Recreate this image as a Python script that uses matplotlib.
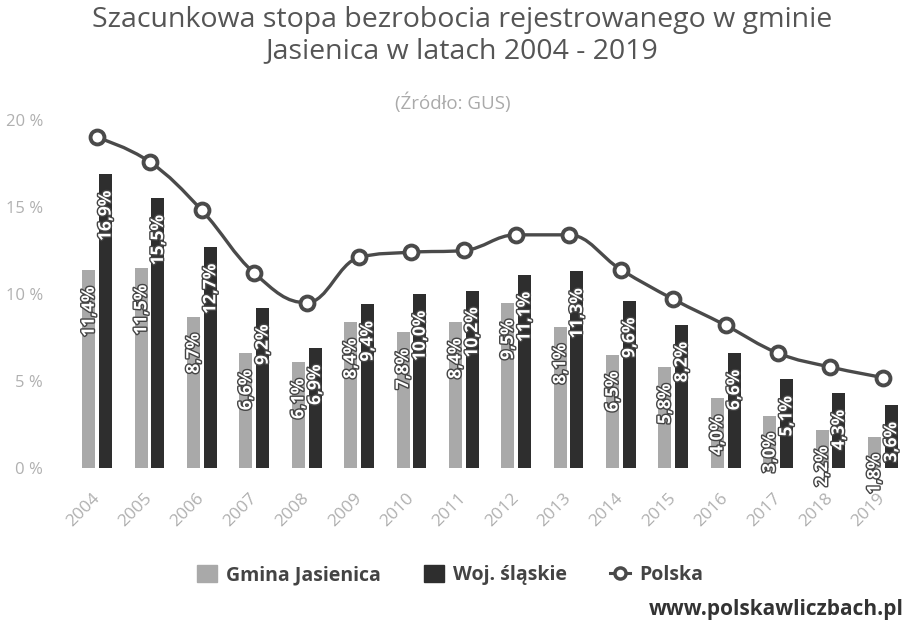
import numpy as np
import matplotlib
matplotlib.use("Agg")
import matplotlib.pyplot as plt
from matplotlib.path import Path
from matplotlib.patches import PathPatch, Patch
from matplotlib.lines import Line2D
import matplotlib.patheffects as pe

plt.rcParams["font.family"] = ["Open Sans", "DejaVu Sans"]

# dane
lata = ["2004", "2005", "2006", "2007", "2008", "2009", "2010", "2011",
        "2012", "2013", "2014", "2015", "2016", "2017", "2018", "2019"]
gmina = [11.4, 11.5, 8.7, 6.6, 6.1, 8.4, 7.8, 8.4, 9.5, 8.1, 6.5, 5.8, 4.0, 3.0, 2.2, 1.8]
woj = [16.9, 15.5, 12.7, 9.2, 6.9, 9.4, 10.0, 10.2, 11.1, 11.3, 9.6, 8.2, 6.6, 5.1, 4.3, 3.6]
polska = [19.0, 17.6, 14.8, 11.2, 9.5, 12.1, 12.4, 12.5, 13.4, 13.4, 11.4, 9.7, 8.2, 6.6, 5.8, 5.2]

c_gmina = "#a9a9a9"
c_woj = "#2e2e2e"
c_line = "#4a4a4a"


def spline_path(xs, ys, smoothing=1.5):
    # krzywa jak w Highcharts (spline)
    denom = smoothing + 1
    n = len(xs)
    left = [None] * n
    right = [None] * n
    for i in range(1, n - 1):
        x, y = xs[i], ys[i]
        lx, ly = xs[i - 1], ys[i - 1]
        nx, ny = xs[i + 1], ys[i + 1]
        lcx = (smoothing * x + lx) / denom
        lcy = (smoothing * y + ly) / denom
        rcx = (smoothing * x + nx) / denom
        rcy = (smoothing * y + ny) / denom
        corr = (rcy - lcy) * (rcx - x) / (rcx - lcx) + y - rcy
        lcy += corr
        rcy += corr
        if lcy > ly and lcy > y:
            lcy = max(ly, y)
            rcy = 2 * y - lcy
        elif lcy < ly and lcy < y:
            lcy = min(ly, y)
            rcy = 2 * y - lcy
        if rcy > ny and rcy > y:
            rcy = max(ny, y)
            lcy = 2 * y - rcy
        elif rcy < ny and rcy < y:
            rcy = min(ny, y)
            lcy = 2 * y - rcy
        left[i] = (lcx, lcy)
        right[i] = (rcx, rcy)
    verts = [(xs[0], ys[0])]
    codes = [Path.MOVETO]
    for i in range(1, n):
        c1 = right[i - 1] if right[i - 1] else (xs[i - 1], ys[i - 1])
        c2 = left[i] if left[i] else (xs[i], ys[i])
        verts += [c1, c2, (xs[i], ys[i])]
        codes += [Path.CURVE4] * 3
    return Path(verts, codes)


fig = plt.figure(figsize=(9.06, 6.21), dpi=100)
ax = fig.add_axes([71 / 906, (621 - 468) / 621, (909 - 71) / 906, 348 / 621])

x = np.arange(len(lata))
w = 0.25
off = 0.16
b1 = ax.bar(x - off, gmina, w, color=c_gmina, zorder=2)
b2 = ax.bar(x + off, woj, w, color=c_woj, zorder=2)

# etykiety wartosci na slupkach
outline = [pe.withStroke(linewidth=2.0, foreground="#444444")]
for bars, vals in ((b1, gmina), (b2, woj)):
    for r, v in zip(bars, vals):
        ax.annotate(f"{v:.1f}%".replace(".", ","),
                    (r.get_x() + r.get_width() / 2, v),
                    xytext=(0, -12), textcoords="offset points",
                    rotation=90, ha="center", va="top",
                    color="white", fontsize=12.5, fontweight="bold",
                    path_effects=outline, zorder=3, annotation_clip=False)

ax.add_patch(PathPatch(spline_path(list(x), polska), fill=False,
                       edgecolor=c_line, lw=2.4, zorder=4))
ax.plot(x, polska, ls="none", marker="o", ms=10, mfc="white",
        mec=c_line, mew=2.8, zorder=5)

ax.set_xlim(-0.5, len(lata) - 0.5)
ax.set_ylim(0, 20)
ax.set_yticks([0, 5, 10, 15, 20])
ax.set_yticklabels(["0 %", "5 %", "10 %", "15 %", "20 %"])
ax.set_xticks(x)
ax.set_xticklabels(lata, rotation=45, ha="right", va="center", rotation_mode="anchor")
ax.tick_params(axis="both", length=0, colors="#b0b0b0")
ax.tick_params(axis="y", pad=20, labelsize=12)
ax.tick_params(axis="x", pad=20, labelsize=12.5)
for s in ax.spines.values():
    s.set_visible(False)

fig.text(0.51, 1 - 20 / 621, "Szacunkowa stopa bezrobocia rejestrowanego w gminie",
         ha="center", va="center", fontsize=20.5, color="#555555")
fig.text(0.51, 1 - 51 / 621, "Jasienica w latach 2004 - 2019",
         ha="center", va="center", fontsize=20.5, color="#555555")
fig.text(0.5, 1 - 103 / 621, "(Źródło: GUS)", ha="center", va="center",
         fontsize=13.5, color="#aaaaaa")

handles = [Patch(color=c_gmina), Patch(color=c_woj),
           Line2D([], [], color=c_line, lw=2.2, marker="o", ms=8, mfc="white", mec=c_line, mew=2.5)]
fig.legend(handles, ["Gmina Jasienica", "Woj. śląskie", "Polska"], loc="center",
           bbox_to_anchor=(0.497, 1 - 575 / 621), ncol=3, frameon=False,
           prop={"size": 14, "weight": "bold"}, labelcolor="#444444",
           handlelength=1.0, handleheight=1.0, columnspacing=2.2, handletextpad=0.5)

fig.text(0.997, 1 - 610 / 621, "www.polskawliczbach.pl", ha="right", va="center",
         fontsize=15, fontweight="bold", color="#333333")

fig.savefig("out.png", dpi=100, facecolor="white")
